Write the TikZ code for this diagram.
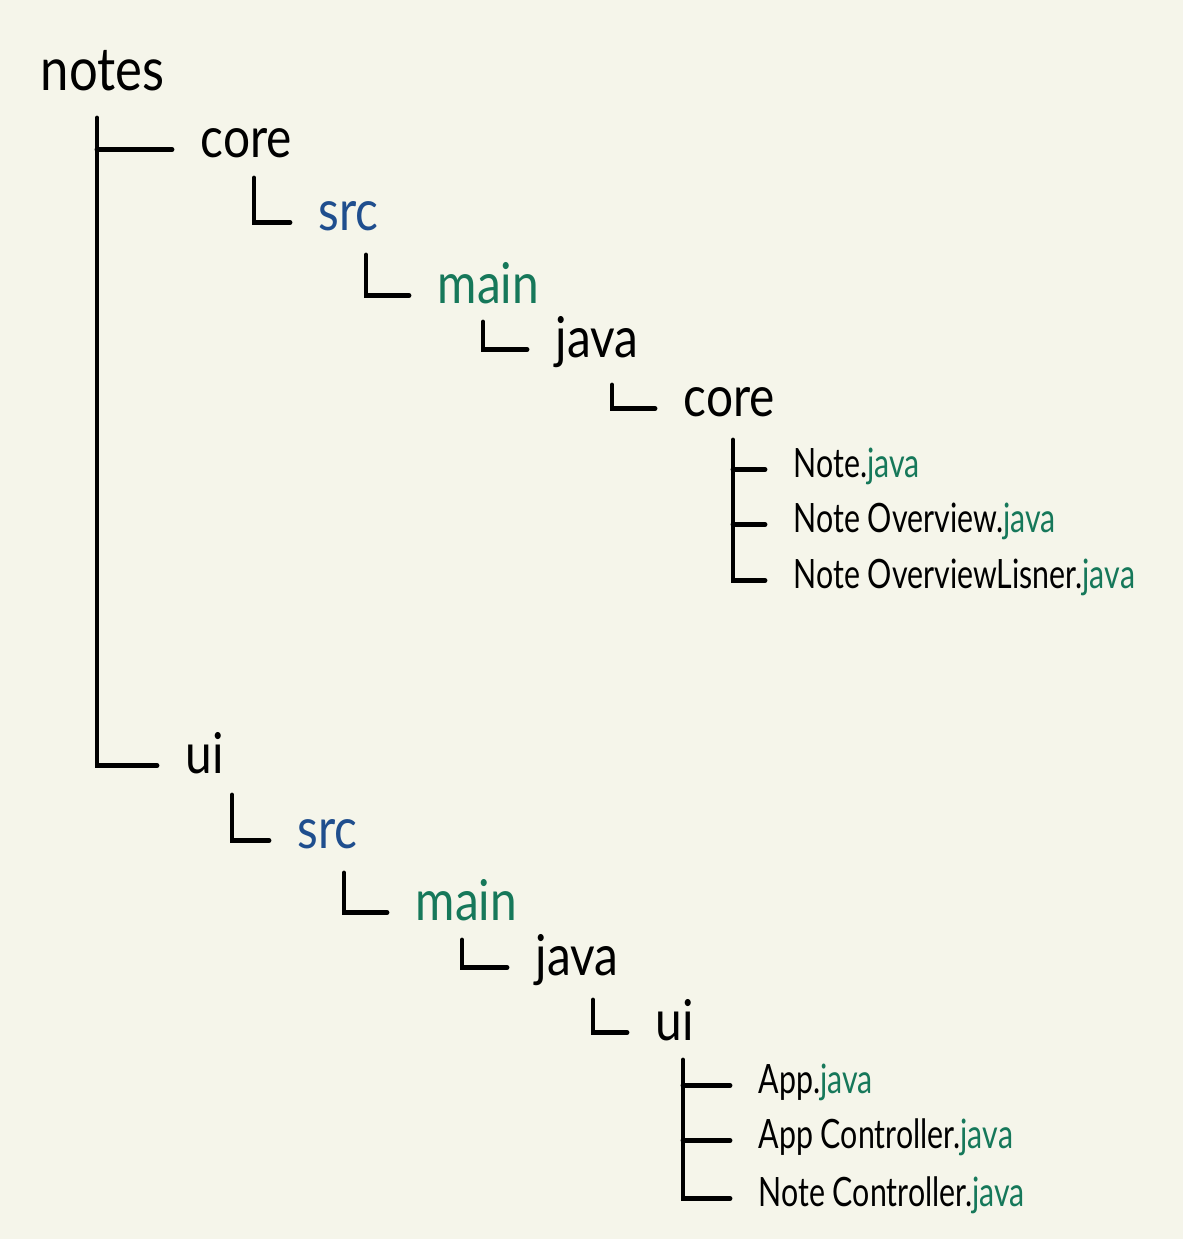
\documentclass[tikz,border=0pt]{standalone}
\usepackage{fontspec}
\newfontfamily\hand[FakeStretch=0.85]{Lato}
\newfontfamily\handfile[FakeStretch=0.75]{Lato}
\usetikzlibrary{calc,positioning}
\definecolor{paper}{HTML}{F5F5EA}
\definecolor{srcblue}{HTML}{1F4E8E}
\definecolor{javagreen}{HTML}{16785A}
\tikzset{branch/.style={draw=black,line width=1.4pt,line cap=round,shorten >=0.28cm},
  dirname/.style={anchor=base west,inner sep=0pt,font=\hand\fontsize{16}{18}\selectfont},
  filename/.style={anchor=base west,inner sep=0pt,font=\handfile\fontsize{11.5}{13}\selectfont},
  top/.style={font=\hand\fontsize{17}{19}\selectfont}}
\newcommand{\jv}{\textcolor{javagreen}{java}}
\begin{document}
\begin{tikzpicture}[x=.01cm,y=-.01cm]
\fill[paper] (0,0) rectangle (1183,1239);
\useasboundingbox (0,0) rectangle (1183,1239);
% core module
\node[dirname,top] (notes) at (40,90) {notes};
\node[dirname] (core) at (200,157) {core};
\node[dirname,srcblue] (coresrc) at (318,230) {src};
\node[dirname,javagreen] (coremain) at (437,303) {main};
\node[dirname] (corejava) at (555,357) {java};
\node[dirname] (corepkg) at (683,416) {core};
\node[filename] (note) at (793,477) {Note.\jv};
\node[filename] (overview) at (793,532) {Note Overview.\jv};
\node[filename] (lisner) at (793,588) {Note OverviewLisner.\jv};
% ui module
\node[dirname] (ui) at (185,773) {ui};
\node[dirname,srcblue] (uisrc) at (297,848) {src};
\node[dirname,javagreen] (uimain) at (415,920) {main};
\node[dirname] (uijava) at (535,975) {java};
\node[dirname] (uipkg) at (655,1040) {ui};
\node[filename] (app) at (758,1093) {App.\jv};
\node[filename] (appctrl) at (758,1148) {App Controller.\jv};
\node[filename] (notectrl) at (758,1206) {Note Controller.\jv};
% tree lines
\coordinate (roottop) at (97,118);
\draw[branch] (roottop) |- (ui.mid west);\draw[branch] (roottop |- core.mid west)--(core.mid west);
\coordinate (coretop) at (254,178);\draw[branch] (coretop) |- (coresrc.mid west);
\coordinate (coresrctop) at (366,255);\draw[branch] (coresrctop) |- (coremain.mid west);
\coordinate (coremaintop) at (483,322);\draw[branch] (coremaintop) |- (corejava.mid west);
\coordinate (corejavatop) at (612,385);\draw[branch] (corejavatop) |- (corepkg.mid west);
\coordinate (corepkgtop) at (733,440);
\draw[branch] (corepkgtop) |- (lisner.mid west);
\draw[branch] (corepkgtop |- note.mid west)--(note.mid west);
\draw[branch] (corepkgtop |- overview.mid west)--(overview.mid west);
\coordinate (uitop) at (232,795);\draw[branch] (uitop) |- (uisrc.mid west);
\coordinate (uisrctop) at (344,873);\draw[branch] (uisrctop) |- (uimain.mid west);
\coordinate (uimaintop) at (462,940);\draw[branch] (uimaintop) |- (uijava.mid west);
\coordinate (uijavatop) at (593,1000);\draw[branch] (uijavatop) |- (uipkg.mid west);
\coordinate (uipkgtop) at (683,1060);
\draw[branch] (uipkgtop) |- (notectrl.mid west);
\draw[branch] (uipkgtop |- app.mid west)--(app.mid west);
\draw[branch] (uipkgtop |- appctrl.mid west)--(appctrl.mid west);
\end{tikzpicture}
\end{document}
